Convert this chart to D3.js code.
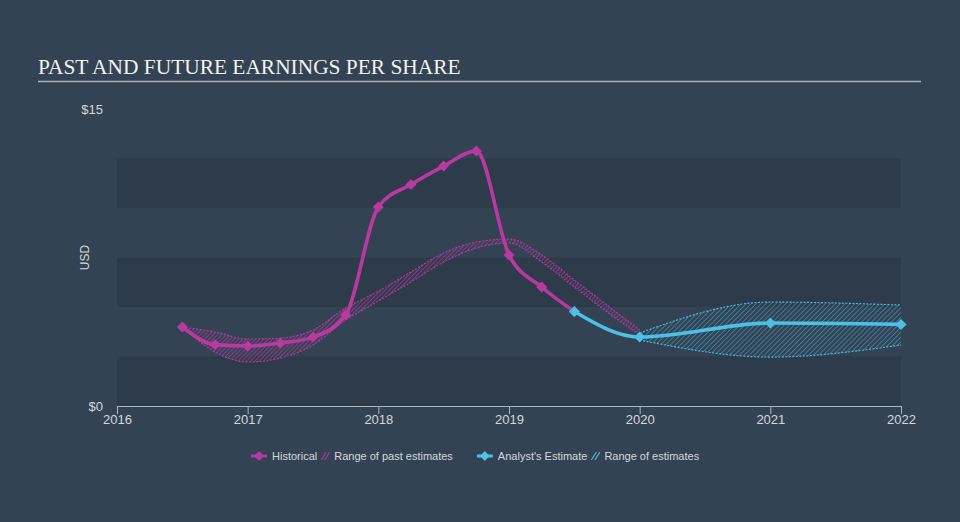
<!DOCTYPE html>
<html><head><meta charset="utf-8">
<script src="https://cdn.jsdelivr.net/npm/d3@7/dist/d3.min.js"></script>
<style>
html,body{margin:0;padding:0;background:#334354;}
svg{display:block;}
</style></head>
<body><svg id="c" width="960" height="522"></svg>
<script>
// ---- data ----
const histDates = [2016.5, 2016.75, 2017, 2017.25, 2017.5, 2017.75, 2018, 2018.25, 2018.5, 2018.75, 2019, 2019.25, 2019.5];
const histValues = [3.99, 3.1, 3.03, 3.18, 3.48, 4.6, 10.05, 11.19, 12.12, 12.88, 7.63, 6.01, 4.77];

const pastRangeDates = [2016.5, 2016.75, 2017, 2017.25, 2017.5, 2017.75, 2018, 2018.25, 2018.5, 2018.75, 2019, 2019.25, 2019.5, 2019.75, 2020];
const pastRangeHigh = [3.99, 3.74, 3.38, 3.43, 3.84, 4.95, 5.8, 6.77, 7.73, 8.28, 8.43, 7.63, 6.36, 5.1, 3.84];
const pastRangeLow  = [3.99, 2.73, 2.22, 2.42, 3.08, 4.34, 5.3, 6.26, 7.27, 7.98, 8.23, 7.27, 6.01, 4.75, 3.59];

const estDates = [2019.5, 2020, 2021, 2022];
const estValues = [4.77, 3.48, 4.19, 4.12];

const estRangeDates = [2020, 2021, 2022];
const estRangeHigh = [3.69, 5.25, 5.1];
const estRangeLow  = [3.33, 2.47, 3.08];

const xTicks = [2016, 2017, 2018, 2019, 2020, 2021, 2022];
const yTicks = [0, 15];
const yTickLabels = ["$0", "$15"];
const bandEdges = [0, 2.5, 5, 7.5, 10, 12.5, 15];

const title = "PAST AND FUTURE EARNINGS PER SHARE";
const legendItems = [
  {type: "line", color: "#b8399f", label: "Historical"},
  {type: "hatch", color: "#b8399f", label: "Range of past estimates"},
  {type: "line", color: "#4cc0e6", label: "Analyst's Estimate", gap: 20},
  {type: "hatch", color: "#4cc0e6", label: "Range of estimates"}
];

// ---- chart ----
const MAG = "#b8399f", BLUE = "#4cc0e6";
const svg = d3.select("#c");
const x = d3.scaleLinear().domain([2016, 2022]).range([117, 901]);
const y = d3.scaleLinear().domain([0, 15]).range([406, 109]);

const defs = svg.append("defs");
function hatch(id, color, op, sp, w) {
  const p = defs.append("pattern").attr("id", id).attr("patternUnits", "userSpaceOnUse")
    .attr("width", sp).attr("height", sp).attr("patternTransform", "rotate(45)");
  p.append("line").attr("x1", 0).attr("y1", 0).attr("x2", 0).attr("y2", sp)
    .attr("stroke", color).attr("stroke-width", w).attr("stroke-opacity", op);
}
hatch("hatchPast", MAG, 1, 3, 1.3);
hatch("hatchEst", BLUE, 0.8, 3.5, 1.1);

// background bands
const bands = [];
for (let i = 0; i < bandEdges.length - 1; i += 2) bands.push([bandEdges[i], bandEdges[i + 1]]);
svg.append("g").selectAll("rect").data(bands).join("rect")
  .attr("x", x(2016)).attr("width", x(2022) - x(2016))
  .attr("y", d => y(d[1])).attr("height", d => y(d[0]) - y(d[1]))
  .attr("fill", "#2e3b4b");

// title
svg.append("text").attr("x", 38).attr("y", 74).text(title)
  .attr("font-family", "'Liberation Serif','Times New Roman',serif").attr("font-size", 21.4)
  .attr("fill", "#f2f2f2");
svg.append("line").attr("x1", 38).attr("x2", 921).attr("y1", 81.5).attr("y2", 81.5)
  .attr("stroke", "#a7afb8").attr("stroke-width", 1.6);

// y labels
svg.append("g").selectAll("text").data(yTicks).join("text")
  .attr("x", 103).attr("y", d => y(d)).attr("dy", "0.35em").attr("text-anchor", "end")
  .attr("font-family", "'Liberation Sans',Arial,sans-serif").attr("font-size", 13)
  .attr("fill", "#d4d8dc").text((d, i) => yTickLabels[i]);
svg.append("text").attr("transform", `translate(89,${(y(0) + y(15)) / 2}) rotate(-90)`)
  .attr("text-anchor", "middle").attr("font-family", "'Liberation Sans',Arial,sans-serif")
  .attr("font-size", 12).attr("fill", "#d4d8dc").text("USD");

// x axis
const xAxis = d3.axisBottom(x).tickValues(xTicks).tickFormat(d3.format("d")).tickSize(8).tickSizeOuter(0);
const gx = svg.append("g").attr("transform", `translate(0,${y(0)})`).call(xAxis);
gx.select(".domain").attr("stroke", "#a9b6c4").attr("stroke-width", 1.2);
gx.selectAll(".tick line").attr("stroke", "#a9b6c4");
gx.selectAll(".tick text").attr("fill", "#d4d8dc").attr("font-size", 13)
  .attr("font-family", "'Liberation Sans',Arial,sans-serif").attr("y", 7).attr("dy", "0.85em");

// ranges
const areaGen = d3.area().curve(d3.curveMonotoneX);
const lineGen = d3.line().curve(d3.curveMonotoneX);
function range(dates, hi, lo, pat, color) {
  const pts = dates.map((d, i) => ({x: x(d), hi: y(hi[i]), lo: y(lo[i])}));
  svg.append("path").attr("d", areaGen.x(d => d.x).y0(d => d.lo).y1(d => d.hi)(pts))
    .attr("fill", `url(#${pat})`);
  [d => d.hi, d => d.lo].forEach(acc => {
    svg.append("path").attr("d", lineGen.x(d => d.x).y(acc)(pts))
      .attr("fill", "none").attr("stroke", color).attr("stroke-width", 1.1)
      .attr("stroke-dasharray", "2,1.5");
  });
}
range(pastRangeDates, pastRangeHigh, pastRangeLow, "hatchPast", MAG);
range(estRangeDates, estRangeHigh, estRangeLow, "hatchEst", BLUE);

// lines
function series(dates, vals, color, w) {
  const pts = dates.map((d, i) => [x(d), y(vals[i])]);
  svg.append("path").attr("d", d3.line().curve(d3.curveMonotoneX)(pts))
    .attr("fill", "none").attr("stroke", color).attr("stroke-width", w)
    .attr("stroke-linejoin", "round");
  const sym = d3.symbol(d3.symbolSquare, 60);
  svg.append("g").selectAll("path").data(pts).join("path")
    .attr("transform", d => `translate(${d[0]},${d[1]}) rotate(45)`)
    .attr("d", sym).attr("fill", color);
}
series(histDates, histValues, MAG, 3.6);
series(estDates, estValues, BLUE, 3.6);

// legend
const lg = svg.append("g");
let lx = 251;
const ly = 456;
legendItems.forEach(it => {
  if (it.gap) lx += it.gap;
  if (it.type === "line") {
    lg.append("line").attr("x1", lx).attr("x2", lx + 16).attr("y1", ly).attr("y2", ly)
      .attr("stroke", it.color).attr("stroke-width", 3);
    lg.append("path").attr("d", d3.symbol(d3.symbolSquare, 48)())
      .attr("transform", `translate(${lx + 8},${ly}) rotate(45)`).attr("fill", it.color);
    lx += 21;
  } else {
    [0, 3.5].forEach(o => {
      lg.append("line").attr("x1", lx + o).attr("y1", ly + 4).attr("x2", lx + o + 5).attr("y2", ly - 4)
        .attr("stroke", it.color).attr("stroke-width", 1.3).attr("stroke-opacity", 0.85);
    });
    lx += 13;
  }
  const t = lg.append("text").attr("x", lx).attr("y", ly).attr("dy", "0.35em")
    .attr("font-family", "'Liberation Sans',Arial,sans-serif").attr("font-size", 11)
    .attr("fill", "#d4d8dc").text(it.label);
  lx += t.node().getComputedTextLength() + 4;
});
</script></body></html>
